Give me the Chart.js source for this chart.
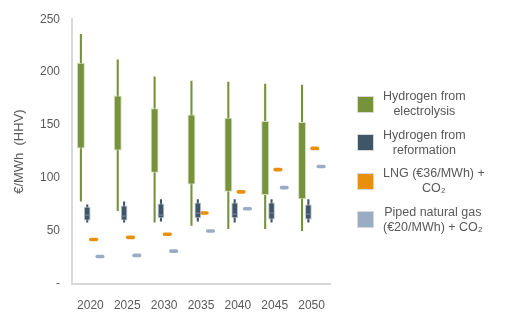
<!DOCTYPE html>
<html>
<head>
<meta charset="utf-8">
<script src="https://cdn.jsdelivr.net/npm/chart.js@4"></script>
<style>
  body { margin: 0; background: #fff; font-family: "Liberation Sans", Arial, sans-serif; }
  #wrap { position: relative; width: 508px; height: 324px; }
  #legend { position: absolute; left: 357px; top: 85px; color: #595959; font-size: 12.5px; line-height: 15px; }
  .row { display: flex; align-items: center; height: 38.5px; }
  .sw { width: 17px; height: 17px; box-sizing: border-box; border: 1px solid #d8d8d8; margin-right: 9px; flex: none; }
  .txt { text-align: center; }
</style>
</head>
<body>
<div id="wrap">
  <canvas id="chart"></canvas>
  <div id="legend"></div>
</div>
<script>

var years = ["2020", "2025", "2030", "2035", "2040", "2045", "2050"];

// hydrogen from electrolysis
var elecMin = [78, 69, 58, 55, 52, 52, 50];
var elecLow = [128, 126, 105, 94, 87, 84, 80];
var elecHigh = [209, 178, 166, 160, 157, 154, 153];
var elecMax = [236, 212, 196, 192, 191, 189, 188];

// hydrogen from reformation
var refMin = [58, 58, 59, 59, 58, 58, 58];
var refLow = [60, 60, 62, 62, 62, 61, 61];
var refMid = [65, 64, 65, 67, 66, 67, 66];
var refHigh = [73, 74, 76, 77, 77, 77, 75];
var refMax = [75, 78, 80, 80, 80, 80, 80];

var lng = [42, 44, 47, 67, 87, 108, 128];
var piped = [26, 27, 31, 50, 71, 91, 111];

var yTicks = [0, 50, 100, 150, 200, 250];

var names = [
  ["Hydrogen from", "electrolysis"],
  ["Hydrogen from", "reformation"],
  ["LNG (€36/MWh) +", "CO₂"],
  ["Piped natural gas", "(€20/MWh) + CO₂"]
];
var colors = ["#76933c", "#3f5568", "#e8900c", "#9aabc4"];

function pairs(a, b) {
  var out = [];
  for (var i = 0; i < a.length; i++) out.push([a[i], b[i]]);
  return out;
}
function dash(a, h) {
  var out = [];
  for (var i = 0; i < a.length; i++) out.push([a[i] - h, a[i] + h]);
  return out;
}

var datasets = [
  { label: names[0].join(" "), stack: "e", data: pairs(elecLow, elecHigh), backgroundColor: colors[0],
    borderColor: "#d3dfc0", borderWidth: 1, borderSkipped: false, barPercentage: 1.25 },
  { label: "median", stack: "r", data: dash(refMid, 0.6), backgroundColor: "#6f8191", barPercentage: 0.8 },
  { label: names[1].join(" "), stack: "r", data: pairs(refLow, refHigh), backgroundColor: colors[1],
    borderColor: "#b9c2ca", borderWidth: 1, borderSkipped: false, barPercentage: 1.05 },
  { label: names[2].join(" "), stack: "l", data: dash(lng, 1.7), backgroundColor: colors[2],
    borderRadius: 2, borderSkipped: false, barPercentage: 1.45 },
  { label: names[3].join(" "), stack: "p", data: dash(piped, 1.7), backgroundColor: colors[3],
    borderRadius: 2, borderSkipped: false, barPercentage: 1.45 },
  { label: "whisker e", stack: "e", data: pairs(elecMin, elecMax), backgroundColor: colors[0], barPercentage: 0.33 },
  { label: "whisker r", stack: "r", data: pairs(refMin, refMax), backgroundColor: colors[1], barPercentage: 0.33 }
];

var tickColor = "#595959";
var font = { family: "'Liberation Sans', Arial, sans-serif", size: 12 };

new Chart(document.getElementById("chart"), {
  type: "bar",
  data: { labels: years, datasets: datasets },
  options: {
    responsive: true,
    maintainAspectRatio: false,
    animation: false,
    categoryPercentage: 0.69,
    layout: { padding: { left: 0, right: 178, top: 19, bottom: 0 } },
    plugins: { legend: { display: false }, tooltip: { enabled: false } },
    scales: {
      x: {
        grid: { display: false, drawTicks: false },
        border: { display: true, color: "#d9d9d9", width: 2 },
        ticks: { color: tickColor, font: font, padding: 14 },
        afterFit: function (axis) { axis.height = 40; }
      },
      y: {
        stacked: false,
        min: 0,
        max: 250,
        afterBuildTicks: function (axis) {
          axis.ticks = yTicks.map(function (v) { return { value: v }; });
        },
        afterFit: function (axis) { axis.width = 72; },
        grid: { display: false, drawTicks: false },
        border: { display: true, color: "#d9d9d9", width: 2 },
        ticks: {
          color: tickColor, font: font, padding: 12,
          callback: function (v) { return v === 0 ? "-" : v; }
        },
        title: {
          display: true, text: "€/MWh  (HHV)", color: tickColor,
          font: { family: font.family, size: 13 },
          padding: { top: 12, bottom: 2 }
        }
      }
    }
  }
});

// legend
var leg = document.getElementById("legend");
for (var i = 0; i < names.length; i++) {
  var row = document.createElement("div");
  row.className = "row";
  var sw = document.createElement("div");
  sw.className = "sw";
  sw.style.background = colors[i];
  var t = document.createElement("div");
  t.className = "txt";
  t.innerHTML = names[i][0] + "<br>" + names[i][1];
  row.appendChild(sw);
  row.appendChild(t);
  leg.appendChild(row);
}
</script>
</body>
</html>
